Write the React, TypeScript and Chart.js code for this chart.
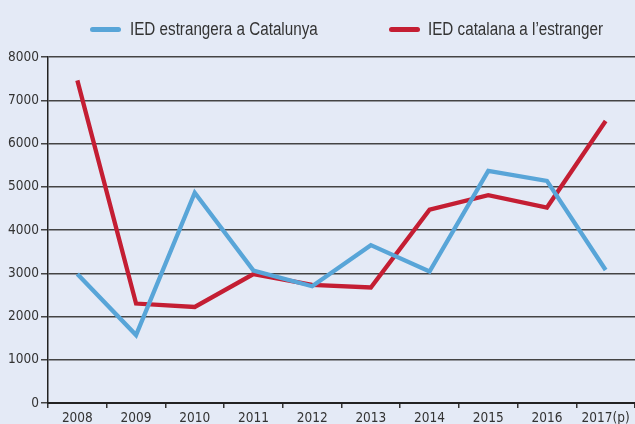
import React, { useEffect, useRef } from "react";
import { Chart, registerables } from "chart.js";

Chart.register(...registerables);

const years = ["2008", "2009", "2010", "2011", "2012", "2013", "2014", "2015", "2016", "2017(p)"];
const foreignInCatalonia = [2980, 1570, 4860, 3060, 2700, 3650, 3040, 5365, 5135, 3075];
const catalanAbroad = [7460, 2300, 2220, 2980, 2730, 2670, 4470, 4805, 4520, 6520];
const seriesNames = ["IED estrangera a Catalunya", "IED catalana a l\u2019estranger"];

const BLUE = "#58A5D8";
const RED = "#C41E33";
const BG = "#E4EAF6";
const TICK_FONT = '"DejaVu Sans Condensed", "Liberation Sans", sans-serif';
const LEGEND_FONT = '"Liberation Sans", Arial, sans-serif';

export default function App() {
  const ref = useRef<HTMLCanvasElement>(null);

  useEffect(() => {
    if (!ref.current) return;
    const chart = new Chart(ref.current, {
      type: "line",
      data: {
        labels: years,
        datasets: [
          {
            label: seriesNames[0],
            data: foreignInCatalonia,
            borderColor: BLUE,
            backgroundColor: BLUE,
            borderWidth: 4.3,
            pointRadius: 0,
            tension: 0,
            borderJoinStyle: "miter",
          },
          {
            label: seriesNames[1],
            data: catalanAbroad,
            borderColor: RED,
            backgroundColor: RED,
            borderWidth: 4.3,
            pointRadius: 0,
            tension: 0,
            borderJoinStyle: "miter",
          },
        ],
      },
      options: {
        responsive: false,
        animation: false,
        layout: { padding: { top: 57, left: 0, right: 0, bottom: 0 } },
        plugins: {
          legend: { display: false },
          tooltip: { enabled: false },
        },
        scales: {
          x: {
            offset: true,
            grid: {
              offset: true,
              drawOnChartArea: false,
              drawTicks: true,
              tickLength: 5,
              color: "#333",
              lineWidth: 1.5,
            },
            border: { display: true, color: "#222", width: 2 },
            ticks: {
              color: "#333",
              font: { family: TICK_FONT, size: 13.5 },
              padding: 2,
              maxRotation: 0,
              autoSkip: false,
            },
            afterFit: (scale: any) => {
              scale.height = 21;
            },
          },
          y: {
            min: 0,
            max: 8000,
            grid: {
              color: "#444",
              lineWidth: 1.5,
              tickLength: 7,
              drawTicks: true,
            },
            border: { display: true, color: "#222", width: 1.5 },
            ticks: {
              stepSize: 1000,
              color: "#333",
              font: { family: TICK_FONT, size: 13.5 },
              padding: 2,
              callback: (v: any) => String(v),
            },
            afterFit: (scale: any) => {
              scale.width = 48;
            },
          },
        },
      },
    });
    return () => chart.destroy();
  }, []);

  const legendText: React.CSSProperties = {
    position: "absolute",
    top: 18,
    fontFamily: LEGEND_FONT,
    fontSize: 18,
    color: "#333",
    lineHeight: "22px",
    whiteSpace: "nowrap",
    transform: "scaleX(0.845)",
    transformOrigin: "left center",
  };
  const legendLine: React.CSSProperties = {
    position: "absolute",
    top: 27,
    width: 31,
    height: 5,
    borderRadius: 3,
  };

  return (
    <div
      style={{
        position: "fixed",
        left: 0,
        top: 0,
        width: 635,
        height: 424,
        background: BG,
        overflow: "hidden",
      }}
    >
      <div style={{ ...legendLine, left: 90, background: BLUE }} />
      <div style={{ ...legendText, left: 130 }}>{seriesNames[0]}</div>
      <div style={{ ...legendLine, left: 389, background: RED }} />
      <div style={{ ...legendText, left: 428 }}>{seriesNames[1]}</div>
      <canvas ref={ref} width={635} height={424} style={{ display: "block" }} />
    </div>
  );
}
